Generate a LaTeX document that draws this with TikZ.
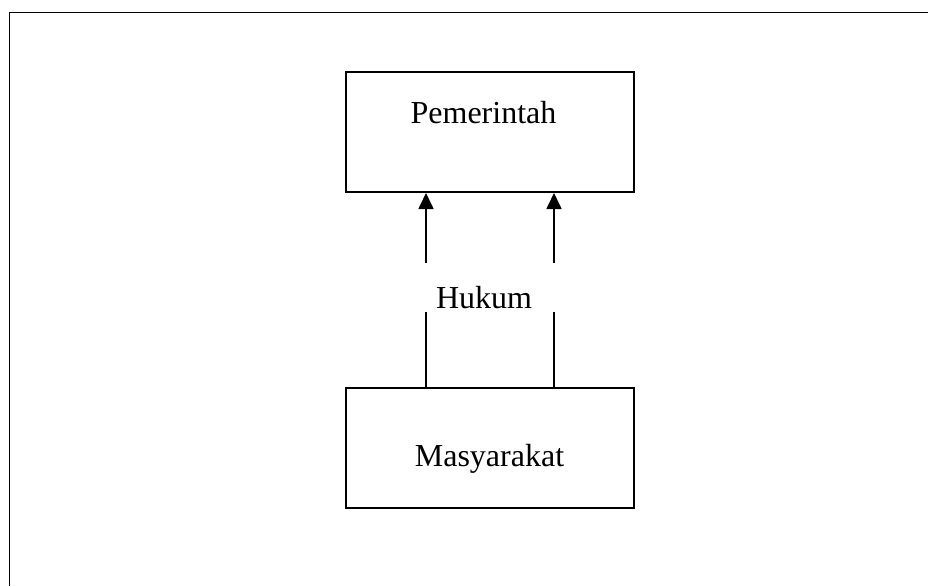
\documentclass[tikz,border=0pt]{standalone}
\usepackage{fontspec}
\setmainfont{Liberation Serif}
\usetikzlibrary{arrows.meta}
\begin{document}
\begin{tikzpicture}[x=1pt,y=-1pt,
  box/.style={draw, line width=2pt, minimum width=288pt, minimum height=120pt, inner sep=0pt},
  lbl/.style={font=\fontsize{32}{38}\selectfont, inner sep=0pt, anchor=base},
  conn/.style={line width=1.7pt},
  frame/.style={line width=1.8pt}]
\useasboundingbox (0,0) rectangle (928,586);
\draw[frame] (9.5,586) -- (9.5,12.5) -- (928,12.5);
\node[box] (pem) at (489.7,132) {};
\node[box] (msy) at (489.7,448.3) {};
\node[lbl] (pemt) at (483.5,123.3) {Pemerintah};
\node[lbl] (msyt) at (489.5,466.7) {Masyarakat};
\node[lbl] (huk) at (484,308) {Hukum};
\coordinate (la) at (426,263);
\coordinate (lb) at (426,312);
\coordinate (ra) at (554,263);
\coordinate (rb) at (554,312);
\draw[conn] (msy.north -| lb) -- (lb);
\draw[conn] (msy.north -| rb) -- (rb);
\draw[conn,-{Triangle[length=16pt,width=15pt]}] (la) -- (pem.south -| la);
\draw[conn,-{Triangle[length=16pt,width=15pt]}] (ra) -- (pem.south -| ra);
\end{tikzpicture}
\end{document}
